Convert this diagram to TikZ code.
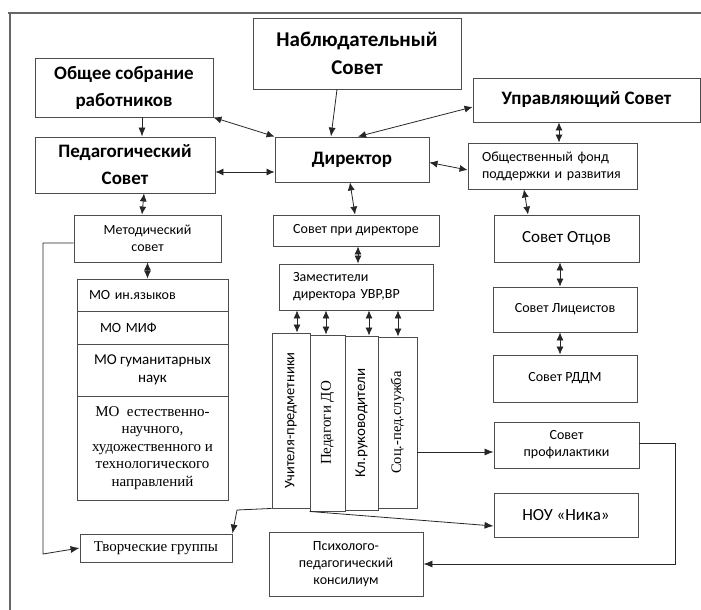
\documentclass[tikz,border=0pt]{standalone}
\usepackage{fontspec}
\setmainfont{Carlito}
\newfontfamily\tnr{Liberation Serif}
\usetikzlibrary{arrows.meta}

\begin{document}
\begin{tikzpicture}[x=1pt, y=-1pt,
        box/.style={draw=black!70, line width=0.9pt, inner sep=2pt, align=center,
                    font=\fontsize{14}{17}\selectfont},
        head/.style={box, font=\bfseries\fontsize{19}{27}\selectfont},
        colbox/.style={box, rotate=90},
        arr/.style={draw=black!85, line width=0.8pt, -{Latex[length=9pt,width=7pt]}},
        dbl/.style={arr, {Latex[length=8pt,width=7pt]}-{Latex[length=8pt,width=7pt]}}]
    \useasboundingbox (0,0) rectangle (701,610);
    \draw[black!60, line width=1.2pt] (8,13) -- (701,13) (10,13) -- (10,610);

    \node[head, minimum width=208pt, minimum height=71pt, font=\bfseries\fontsize{21}{28}\selectfont]
        (nab) at (357,53.5) {Наблюдательный\\Совет};
    \node[head, minimum width=178pt, minimum height=59pt] (obsh) at (124,87.5) {Общее собрание\\работников};
    \node[head, minimum width=180pt, minimum height=56pt] (ped) at (125,165) {Педагогический\\Совет};
    \node[head, minimum width=154pt, minimum height=45pt] (dir) at (352,159.5) {Директор};
    \node[head, minimum width=227pt, minimum height=44pt] (upr) at (586.5,100) {Управляющий Совет};
    \node[box, minimum width=169pt, minimum height=46pt, text width=141pt, inner xsep=14pt,
          align=left] (fond) at (552.5,166) {Общественный фонд\\поддержки и развития};

    \node[box, minimum width=147pt, minimum height=47pt] (metod) at (147.5,238.5) {Методический\\совет};
    \node[box, minimum width=151pt, minimum height=32pt, text width=127pt, inner xsep=12pt,
          align=left] (mo1) at (152.5,295) {МО ин.языков};
    \node[box, minimum width=151pt, minimum height=33pt, text width=105pt, inner xsep=23pt,
          align=left] (mo2) at (152.5,327.5) {МО МИФ};
    \node[box, minimum width=151pt, minimum height=52pt, font=\fontsize{15}{18}\selectfont]
        (mo3) at (152.5,370) {МО гуманитарных\\наук};
    \node[box, minimum width=151pt, minimum height=104pt, font=\tnr\fontsize{15}{17.5}\selectfont]
        (mo4) at (152.5,448) {МО~~естественно-\\научного,\\художественного и\\технологического\\направлений};
    \node[box, minimum width=152pt, minimum height=28pt, font=\tnr\fontsize{15}{17}\selectfont]
        (tvor) at (156,548) {Творческие группы};

    \node[box, minimum width=166pt, minimum height=31pt] (sovdir) at (356,230.5) {Совет при директоре};
    \node[box, minimum width=154pt, minimum height=46pt, text width=126pt, inner xsep=14pt,
          align=left] (zam) at (356,287) {Заместители\\директора УВР,ВР};
    \node[colbox, minimum width=175pt, minimum height=38pt, font=\fontsize{14.5}{17}\selectfont]
        (col1) at (291,420.5) {Учителя-предметники};
    \node[colbox, minimum width=176pt, minimum height=35pt, font=\tnr\fontsize{15}{17}\selectfont]
        (col2) at (327.5,423) {Педагоги ДО};
    \node[colbox, minimum width=174pt, minimum height=33pt, font=\fontsize{15}{17}\selectfont]
        (col3) at (361.5,423) {Кл.руководители};
    \node[colbox, minimum width=171pt, minimum height=39pt, font=\tnr\fontsize{14.5}{17}\selectfont]
        (col4) at (397.5,422.5) {Соц.-пед.служба};
    \node[box, minimum width=154pt, minimum height=64pt] (psy) at (346,564) {Психолого-\\педагогический\\консилиум};

    \node[box, minimum width=145pt, minimum height=47pt, font=\fontsize{17}{20}\selectfont]
        (otcy) at (566.5,238.5) {Совет Отцов};
    \node[box, minimum width=144pt, minimum height=45pt] (lic) at (565,309.5) {Совет Лицеистов};
    \node[box, minimum width=144pt, minimum height=47pt] (rddm) at (565,378.5) {Совет РДДМ};
    \node[box, minimum width=145pt, minimum height=46pt] (prof) at (566.5,445) {Совет\\профилактики};
    \node[box, minimum width=144pt, minimum height=44pt, font=\fontsize{17}{20}\selectfont]
        (nou) at (566,515) {НОУ «Ника»};

    \coordinate (m2) at (43,554);
    \coordinate (m3) at (237,510);
    \coordinate (turn) at (675,564);

    \draw[arr] ([xshift=-20pt]nab.south) -- ([xshift=-21pt]dir.north);
    \draw[dbl] (obsh.south east) -- (dir.north west);
    \draw[arr] ([xshift=18pt]obsh.south) -- ([xshift=18pt]obsh.south |- ped.north);
    \draw[dbl] ([yshift=-7pt]ped.east) -- ([yshift=-7pt]ped.east -| dir.west);
    \draw[dbl] ([xshift=6pt]dir.north) -- ([yshift=-7pt]upr.west);
    \draw[dbl] ([yshift=-3pt]dir.east) -- ([yshift=-4pt]fond.west);
    \draw[dbl] ([xshift=6.5pt]fond.north) -- ([xshift=6.5pt]fond.north |- upr.south);
    \draw[dbl] ([xshift=-28.5pt]fond.south) -- ([xshift=-38.5pt]otcy.north);
    \draw[dbl] ([xshift=19pt]ped.south) -- ([xshift=-5.5pt]metod.north);
    \draw[dbl] (metod.south) -- (metod.south |- mo1.north);
    \draw[dbl] ([xshift=-2pt]dir.south) -- ([xshift=-1pt]sovdir.north);
    \draw[dbl] ([xshift=2pt]sovdir.south) -- ([xshift=2pt]sovdir.south |- zam.north);
    \foreach \c/\s in {col1/6, col2/-1.5, col3/7.5, col4/0.5}
        \draw[dbl] ([xshift=\s pt]\c.east |- zam.south) -- ([xshift=\s pt]\c.east);
    \draw[dbl] ([xshift=-6.5pt]otcy.south) -- ([xshift=-5pt]lic.north);
    \draw[dbl] ([xshift=-5pt]lic.south) -- ([xshift=-5pt]rddm.north);
    \draw[arr] ([yshift=-7pt]prof.west -| col4.south) -- ([yshift=-7pt]prof.west);
    \draw[arr] ([yshift=2pt]prof.east) -| (turn) -- (psy.east);
    \draw[arr] ([yshift=-4.5pt]metod.west) -| (m2) -- (tvor.west);
    \draw[arr] (col1.north west) -- (m3) -- (tvor.north east);
    \draw[arr] (col2.north west) -- ([yshift=-11pt]nou.west);
\end{tikzpicture}
\end{document}
